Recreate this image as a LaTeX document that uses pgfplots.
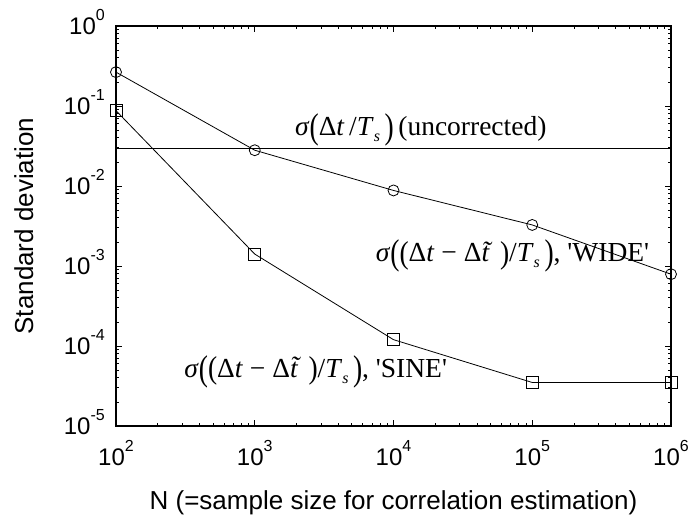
\documentclass[border=0pt]{standalone}
\usepackage{graphicx}
\usepackage{pgfplots}
\pgfplotsset{compat=1.18}
\usepackage{fontspec}
\setmainfont{Liberation Sans}
\newfontfamily\tnr{Liberation Serif}

% power-of-ten tick label with a raised exponent
\newcommand\ex[1]{10\raisebox{14pt}{\fontsize{16}{16}\selectfont #1}}
% stretched parentheses, subscript and tilde-t for the annotations
\newcommand\bigp[1]{\raisebox{-3pt}{\scalebox{1}[1.3]{#1}}}
\newcommand\medp[1]{\raisebox{-1.5pt}{\scalebox{1}[1.15]{#1}}}
\newcommand\sub[1]{\raisebox{-6pt}{\fontsize{16}{16}\selectfont\itshape #1}}
\newcommand\tdt{\textit{t^^^^0303}}

\begin{document}
\begin{tikzpicture}
\begin{axis}[
  scale only axis, width=555pt, height=400pt,
  xmode=log, ymode=log,
  xmin=1e2, xmax=1e6, ymin=1e-5, ymax=1,
  xtick={1e2,1e3,1e4,1e5,1e6},
  xticklabels={\ex{2},\ex{3},\ex{4},\ex{5},\ex{6}},
  ytick={1e-5,1e-4,1e-3,1e-2,1e-1,1},
  yticklabels={\ex{-5},\ex{-4},\ex{-3},\ex{-2},\ex{-1},\ex{0}},
  minor xtick={200,300,400,500,600,700,800,900,
    2000,3000,4000,5000,6000,7000,8000,9000,
    20000,30000,40000,50000,60000,70000,80000,90000,
    200000,300000,400000,500000,600000,700000,800000,900000},
  minor ytick={2e-5,3e-5,4e-5,5e-5,6e-5,7e-5,8e-5,9e-5,
    2e-4,3e-4,4e-4,5e-4,6e-4,7e-4,8e-4,9e-4,
    2e-3,3e-3,4e-3,5e-3,6e-3,7e-3,8e-3,9e-3,
    2e-2,3e-2,4e-2,5e-2,6e-2,7e-2,8e-2,9e-2,
    0.2,0.3,0.4,0.5,0.6,0.7,0.8,0.9},
  tick align=inside, tick pos=both,
  major tick length=6pt, minor tick length=3pt,
  axis line style={line width=1.4pt},
  every tick/.style={black, line width=0.8pt},
  ticklabel style={font=\fontsize{24}{28}\selectfont, inner sep=0pt},
  xticklabel style={anchor=base, yshift=-39pt},
  yticklabel style={anchor=base east, yshift=-8.5pt, xshift=-11pt},
  label style={font=\fontsize{26}{30}\selectfont, inner sep=0pt},
  xlabel={N (=sample size for correlation estimation)},
  ylabel={Standard deviation},
  xlabel style={at={(axis description cs:0.5,-0.2075)}, anchor=base},
  ylabel style={at={(axis description cs:-0.1495,0.5)}, anchor=base},
  clip=false,
]
% uncorrected estimate
\addplot[black, line width=0.8pt, no marks] coordinates {
  (1e2,0.0294) (1e6,0.0294)};
% 'WIDE' correction
\addplot[black, line width=0.8pt, mark=o, mark size=5.5pt,
  mark options={solid, line width=0.8pt}] coordinates {
  (1e2,0.265) (1e3,0.028) (1e4,0.0088) (1e5,0.00326) (1e6,0.00079)};
% 'SINE' correction
\addplot[black, line width=0.8pt, mark=square, mark size=6pt,
  mark options={solid, line width=0.8pt}] coordinates {
  (1e2,0.0874) (1e3,0.00141) (1e4,1.2e-4) (1e5,3.5e-5) (1e6,3.5e-5)};

\begin{scope}[every node/.style={anchor=base west, inner sep=0pt,
  font=\tnr\fontsize{27.5}{32}\selectfont}]
\node at (axis description cs:0.3225,0.7275)
  {\textit{σ}\bigp{(}Δ\textit{t}\,/\textit{T}\sub{s}\,\bigp{)}\,(uncorrected)};
\node at (axis description cs:0.468,0.41)
  {\textit{σ}\bigp{(}\medp{(}Δ\textit{t} − Δ\tdt\medp{)}/\textit{T}\sub{s}\,\bigp{)}, \textquotesingle WIDE\textquotesingle};
\node at (axis description cs:0.123,0.1225)
  {\textit{σ}\bigp{(}\medp{(}Δ\textit{t} − Δ\tdt\medp{)}/\textit{T}\sub{s}\,\bigp{)}, \textquotesingle SINE\textquotesingle};
\end{scope}
\end{axis}
\pgfresetboundingbox
\path ([shift={(-116pt,-95pt)}]current axis.south west)
  rectangle ([shift={(19pt,26pt)}]current axis.north east);
\end{tikzpicture}
\end{document}
